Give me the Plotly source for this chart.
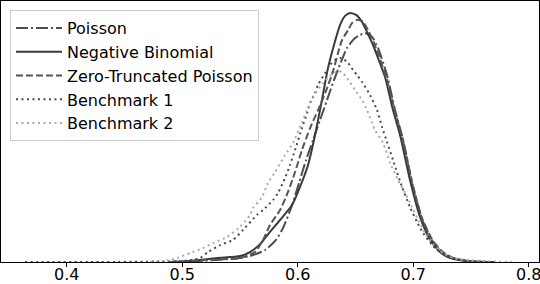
import plotly.graph_objects as go

# ---- data ----
poisson_x = [0.4900, 0.5200, 0.5450, 0.5587, 0.5717, 0.5812, 0.5873, 0.5951, 0.6011, 0.6072, 0.6133,
             0.6193, 0.6254, 0.6314, 0.6375, 0.6427, 0.6496, 0.6540, 0.6583, 0.6644, 0.6695, 0.6773,
             0.6843, 0.6912, 0.6990, 0.7076, 0.7172, 0.7258, 0.7345, 0.7492, 0.7650]
poisson_y = [0.00, 0.06, 0.14, 0.24, 0.48, 0.89, 1.37, 2.29, 3.18, 4.10, 4.91,
             5.71, 6.52, 7.32, 8.05, 8.61, 9.01, 9.13, 9.21, 9.05, 8.61, 7.52,
             6.11, 4.91, 3.18, 1.73, 0.80, 0.36, 0.16, 0.02, 0.00]

negbin_x = [0.4900, 0.5007, 0.5301, 0.5500, 0.5587, 0.5674, 0.5760, 0.5847, 0.5951, 0.6037, 0.6089,
            0.6150, 0.6210, 0.6262, 0.6314, 0.6366, 0.6410, 0.6453, 0.6505, 0.6557, 0.6600, 0.6652,
            0.6695, 0.6756, 0.6825, 0.6886, 0.6972, 0.7059, 0.7146, 0.7232, 0.7319, 0.7431, 0.7578, 0.7700]
negbin_y = [0.00, 0.01, 0.16, 0.24, 0.40, 0.72, 1.21, 1.69, 2.29, 3.22, 3.90,
            5.11, 6.52, 7.80, 8.73, 9.53, 9.90, 10.02, 9.94, 9.66, 9.25, 8.73,
            8.21, 7.44, 6.11, 5.11, 3.30, 1.81, 0.89, 0.40, 0.16, 0.06, 0.01, 0.00]

ztp_x = [0.4900, 0.5200, 0.5500, 0.5630, 0.5700, 0.5760, 0.5847, 0.5916, 0.5977, 0.6037, 0.6107,
         0.6176, 0.6245, 0.6306, 0.6349, 0.6384, 0.6436, 0.6470, 0.6514, 0.6566, 0.6609, 0.6669,
         0.6773, 0.6843, 0.6912, 0.6990, 0.7076, 0.7172, 0.7258, 0.7345, 0.7492, 0.7650]
ztp_y = [0.00, 0.08, 0.16, 0.40, 0.89, 1.49, 2.09, 2.82, 3.62, 4.51, 5.39,
         6.11, 6.88, 7.68, 8.41, 8.93, 9.33, 9.61, 9.74, 9.66, 9.33, 8.73,
         7.32, 6.03, 4.91, 3.22, 1.77, 0.84, 0.40, 0.16, 0.02, 0.00]

bench1_x = [0.3639, 0.4288, 0.4808, 0.5007, 0.5154, 0.5223, 0.5327, 0.5440, 0.5526, 0.5647, 0.5700,
            0.5786, 0.5830, 0.5890, 0.5933, 0.5977, 0.6037, 0.6081, 0.6107, 0.6150, 0.6176, 0.6237,
            0.6280, 0.6323, 0.6375, 0.6436, 0.6479, 0.6514, 0.6557, 0.6626, 0.6687, 0.6730, 0.6773,
            0.6825, 0.6903, 0.6972, 0.7033, 0.7085, 0.7172, 0.7258, 0.7345, 0.7492, 0.7665]
bench1_y = [0.00, 0.00, 0.02, 0.04, 0.16, 0.40, 0.68, 0.89, 1.29, 1.89, 2.09,
            2.49, 2.78, 3.38, 3.90, 4.51, 5.39, 5.99, 6.40, 6.80, 7.12, 7.60,
            7.93, 8.13, 8.21, 8.01, 7.72, 7.52, 7.24, 6.72, 6.11, 5.43, 4.83,
            4.10, 3.02, 2.21, 1.61, 1.17, 0.64, 0.32, 0.14, 0.04, 0.00]

bench2_x = [0.4722, 0.4834, 0.4955, 0.5068, 0.5180, 0.5267, 0.5388, 0.5500, 0.5587, 0.5613, 0.5691,
            0.5743, 0.5804, 0.5890, 0.5960, 0.6037, 0.6081, 0.6133, 0.6219, 0.6280, 0.6349, 0.6384,
            0.6427, 0.6496, 0.6557, 0.6600, 0.6644, 0.6669, 0.6739, 0.6800, 0.6869, 0.6929, 0.6990,
            0.7042, 0.7102, 0.7172, 0.7258, 0.7345, 0.7492, 0.7665, 0.7864]
bench2_y = [0.00, 0.02, 0.16, 0.36, 0.56, 0.76, 1.01, 1.41, 1.89, 2.17, 2.61,
            3.18, 3.62, 4.30, 4.79, 5.63, 6.11, 6.64, 7.20, 7.48, 7.68, 7.64,
            7.40, 6.92, 6.52, 6.11, 5.59, 5.31, 4.79, 3.98, 3.30, 2.78, 2.21,
            1.69, 1.17, 0.72, 0.36, 0.16, 0.07, 0.03, 0.00]

x_ticks = [0.4, 0.5, 0.6, 0.7, 0.8]
x_tick_labels = ["0.4", "0.5", "0.6", "0.7", "0.8"]

series = [
    ("Poisson", poisson_x, poisson_y, "#4d4d4d", "12px,3px,2px,3px"),
    ("Negative Binomial", negbin_x, negbin_y, "#3a3a3a", "solid"),
    ("Zero-Truncated Poisson", ztp_x, ztp_y, "#555555", "7px,3px"),
    ("Benchmark 1", bench1_x, bench1_y, "#4a4a4a", "2px,3.5px"),
    ("Benchmark 2", bench2_x, bench2_y, "#aaaaaa", "2px,3.5px"),
]

fig = go.Figure()
for name, xs, ys, color, dash in series:
    fig.add_trace(go.Scatter(
        x=xs, y=ys, mode="lines", name=name,
        line=dict(color=color, width=2, dash=dash, shape="spline", smoothing=0.6),
    ))

fig.update_layout(
    width=540, height=284,
    margin=dict(l=1, r=1, t=1, b=22, autoexpand=False),
    paper_bgcolor="white", plot_bgcolor="white",
    font=dict(family="DejaVu Sans", size=16, color="black"),
    showlegend=True,
    legend=dict(
        x=0.0167, y=0.9655, xanchor="left", yanchor="top",
        bgcolor="rgba(255,255,255,0.8)", bordercolor="#cccccc", borderwidth=1,
        font=dict(family="DejaVu Sans", size=16, color="black"),
        itemwidth=46,
    ),
    xaxis=dict(
        range=[0.3431, 0.8089], tickvals=x_ticks, ticktext=x_tick_labels,
        showgrid=False, zeroline=False, showline=True, linecolor="black", linewidth=1,
        mirror=True, ticks="outside", ticklen=4, tickcolor="black",
        tickfont=dict(family="DejaVu Sans", size=16, color="black"),
        automargin=False, ticklabelstandoff=-6, ticklabeloverflow="allow",
    ),
    yaxis=dict(
        range=[0, 10.5], showticklabels=False, ticks="",
        showgrid=False, zeroline=False, showline=True, linecolor="black", linewidth=1,
        mirror=True, automargin=False,
    ),
)

fig.write_html(
    "out.html",
    config={"displayModeBar": False},
    post_script="document.body.style.margin='0';document.body.style.overflow='hidden';",
)
